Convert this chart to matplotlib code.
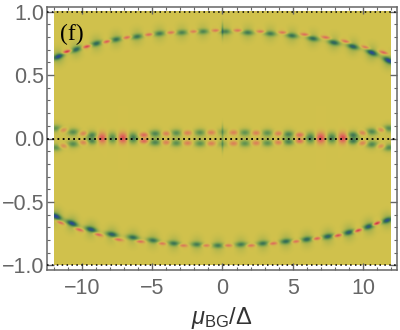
# -*- coding: utf-8 -*-
import matplotlib
matplotlib.use('Agg')
import matplotlib.pyplot as plt
from matplotlib.colors import LinearSegmentedColormap
from matplotlib.ticker import MultipleLocator
import numpy as np

plt.rcParams['font.family'] = ['Liberation Sans', 'DejaVu Sans']
plt.rcParams['mathtext.fontset'] = 'custom'
plt.rcParams['mathtext.rm'] = 'Liberation Sans'
plt.rcParams['mathtext.it'] = 'Liberation Sans:italic'

# upper arc
top_green_x = [-11.7, -10.45, -9.0, -7.6, -6.1, -4.5, -2.9, -1.4, 0.2, 1.8, 3.4, 4.95, 6.45, 7.95, 9.3, 10.65, 11.85]
top_green_y = [.643, .698, .745, .777, .80, .824, .832, .84, .84, .832, .824, .808, .785, .753, .722, .674, .611]
top_green_a = [.95, .8, .75, .7, .65, .6, .55, .55, .55, .6, .6, .65, .7, .75, .8, .95, 1.0]
top_red_x = [-11.08, -9.66, -8.23, -6.8, -5.24, -3.67, -2.03, -0.46, 1.1, 2.74, 4.3, 5.88, 7.38, 8.8, 10.23, 11.5]
top_red_y = [.682, .722, .761, .793, .816, .832, .84, .848, .848, .84, .832, .816, .793, .761, .714, .674]
top_red_a = [.9, .75, .65, .55, .5, .45, .45, .45, .45, .45, .45, .5, .5, .5, .5, .55]

# lower arc
bot_green_x = [-11.87, -10.73, -9.37, -7.88, -6.38, -4.95, -3.46, -1.82, -0.32, 1.32, 2.89, 4.53, 6.02, 7.52, 9.02, 10.44, 11.73]
bot_green_y = [-.619, -.674, -.722, -.761, -.785, -.808, -.832, -.84, -.848, -.84, -.832, -.816, -.80, -.777, -.745, -.698, -.65]
bot_green_a = [1.0, .95, .9, .8, .7, .65, .65, .6, .6, .6, .65, .7, .75, .8, .85, .9, .9]
bot_red_x = [-11.58, -10.23, -8.87, -7.45, -5.88, -4.31, -2.82, -1.18, .39, 2.03, 3.6, 5.24, 6.74, 8.23, 9.66, 11.0]
bot_red_y = [-.666, -.722, -.761, -.80, -.816, -.832, -.848, -.848, -.848, -.848, -.832, -.816, -.793, -.769, -.73, -.674]
bot_red_a = [.55, .55, .55, .5, .5, .45, .45, .45, .45, .45, .5, .5, .6, .7, .8, .95]

# central band, each blob mirrored at +/- sep
mid_x = [-11.87, -11.37, -10.66, -9.9, -9.3, -8.6, -7.85, -7.1, -6.4, -5.6, -4.8, -4.0, -3.3, -2.5, -1.6, -.8, 0,
         .8, 1.6, 2.4, 3.2, 4.0, 4.7, 5.5, 6.3, 7.0, 7.8, 8.6, 9.3, 10.0, 10.65, 11.35, 11.85]
mid_sep = [.075, .063, .047, .035, .024, 0, 0, 0, 0, .024, .035, .035, .04, .04, .043, .043, .047,
           .043, .043, .04, .04, .035, .03, .024, 0, 0, 0, 0, .024, .04, .05, .065, .075]
mid_amp = [.4, -.4, .42, -.42, .45, -.65, .55, -.7, .65, -.55, .45, -.42, .4, -.4, .38, -.4, .22,
           -.4, .38, -.4, .38, -.42, .45, -.5, .62, -.7, .62, -.72, .5, -.42, .45, -.42, .45]

# thin vertical streaks near x=0
streak_x = [0.0, 0.0, 0.0]
streak_y = [.85, .05, -.05]
streak_a = [.4, .3, .3]

px, py = 14.03, 126.8  # pixels per data unit
xg = np.linspace(-12, 12, 674)
yg = np.linspace(-1, 1, 508)
X, Y = np.meshgrid(xg, yg)
Z = np.zeros_like(X)


def blob(x0, y0, a, sl, sw, slope):
    # tilted gaussian, lengths in pixels
    dx = (X - x0) * px
    dy = (Y - y0) * py
    n = np.hypot(1, slope)
    u = (dx + slope * dy) / n
    v = (dy - slope * dx) / n
    return a * np.exp(-u**2 / (2 * sl**2) - v**2 / (2 * sw**2))


def arc(xs, ys, amps, sign):
    slopes = np.gradient(np.array(ys) * py, np.array(xs) * px)
    out = np.zeros_like(X)
    for x0, y0, a, s in zip(xs, ys, amps, slopes):
        if sign > 0:
            out += blob(x0, y0, .82 * a, 4.4, 1.8, s) + blob(x0, y0, .25 * a, 4.2, 5.5, 0)
        else:
            out -= blob(x0, y0, a, 3.2, 1.0, s) + blob(x0, y0, .12 * a, 6.0, 3.0, s)
    return out


Z += arc(top_green_x, top_green_y, top_green_a, 1)
Z += arc(top_red_x, top_red_y, top_red_a, -1)
Z += arc(bot_green_x, bot_green_y, bot_green_a, 1)
Z += arc(bot_red_x, bot_red_y, bot_red_a, -1)

for x0, s0, a in zip(mid_x, mid_sep, mid_amp):
    sl = 4.2 if a > 0 else 3.4
    sw = 2.2 if a > 0 else 1.7
    if s0 == 0:
        Z += blob(x0, 0, a, 3.9, 3.8, 0)
    else:
        Z += blob(x0, s0, a, sl, sw, 0) + blob(x0, -s0, a, sl, sw, 0)
        if a > 0:
            Z += blob(x0, s0, .22 * a, 4, 4.5, 0) + blob(x0, -s0, .22 * a, 4, 4.5, 0)

for x0, y0, a in zip(streak_x, streak_y, streak_a):
    Z += blob(x0, y0, a, 0.6, 5.0, 0)

cmap0 = LinearSegmentedColormap.from_list('olive', [
    (0.0, (0.78, 0.10, 0.20)),
    (0.25, (0.87, 0.42, 0.36)),
    (0.5, (0.82, 0.76, 0.30)),
    (0.68, (0.47, 0.63, 0.31)),
    (0.85, (0.20, 0.43, 0.33)),
    (1.0, (0.15, 0.27, 0.60))])

gray0 = '#666666'
fig = plt.figure(figsize=(4, 3.3), dpi=100)
ax = fig.add_axes([47 / 400, 1 - 270 / 330, 350 / 400, 263 / 330])
ax.imshow(Z, extent=[-12, 12, -1, 1], origin='lower', aspect='auto', cmap=cmap0, vmin=-1, vmax=1,
          interpolation='bilinear', zorder=1)
ax.set_xlim(-12.5, 12.43)
ax.set_ylim(-1.037, 1.037)

ax.axhline(0, color='k', lw=1.3, ls=(0, (1, 1.9)), zorder=3)
for yy in [-1, 1]:
    ax.axhline(yy, color='k', lw=1.1, ls=(0, (1, 2.2)), zorder=3)

ax.xaxis.set_major_locator(MultipleLocator(5))
ax.xaxis.set_minor_locator(MultipleLocator(1))
ax.yaxis.set_major_locator(MultipleLocator(0.5))
ax.yaxis.set_minor_locator(MultipleLocator(0.1))
ax.tick_params(which='major', direction='in', length=5, width=1, color=gray0, labelcolor=gray0,
               labelsize=15.5, top=True, right=True)
ax.tick_params(axis='x', which='major', pad=6)
ax.tick_params(axis='y', which='major', pad=2)
ax.tick_params(which='minor', direction='in', length=2.5, width=0.8, color=gray0, top=True, right=True)
ax.set_xticks([-10, -5, 0, 5, 10])
ax.set_xticklabels(['\u221210', '\u22125', '0', '5', '10'])
ax.set_yticks([-1, -.5, 0, .5, 1])
ax.set_yticklabels(['\u22121.0', '\u22120.5', '0.0', '0.5', '1.0'])
for s in ax.spines.values():
    s.set_color(gray0)
    s.set_linewidth(1.1)

ax.text(-11.6, 0.776, '(f)', family='Liberation Serif', fontsize=17, color='k', zorder=4)
fig.text(222 / 400, 1 - 331 / 330, r'$\mu_{\mathrm{BG}}/\Delta$', fontsize=17, color='#333333', ha='center', va='bottom')

plt.savefig('out.png', dpi=100)
